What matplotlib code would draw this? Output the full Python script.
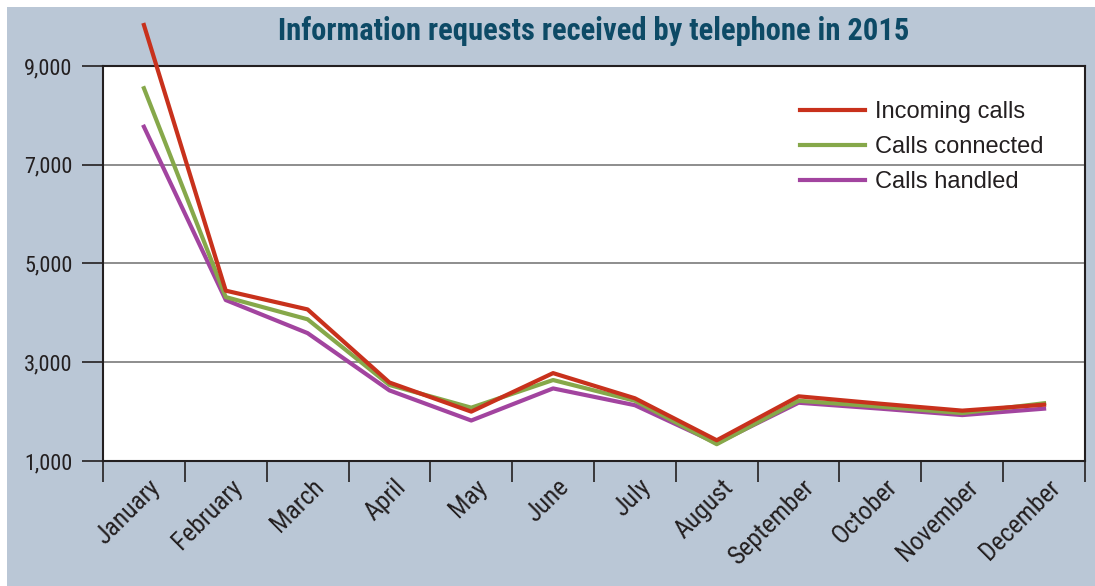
import matplotlib
matplotlib.use('Agg')
from matplotlib import pyplot as plt
from matplotlib.patches import Rectangle
import matplotlib.transforms as mtransforms

months = ['January', 'February', 'March', 'April', 'May', 'June', 'July',
          'August', 'September', 'October', 'November', 'December']
incoming = [9830, 4450, 4070, 2590, 2000, 2780, 2270, 1420, 2310, 2160, 2020, 2140]
connected = [8550, 4320, 3870, 2540, 2080, 2640, 2220, 1340, 2220, 2100, 1970, 2170]
handled = [7770, 4260, 3590, 2430, 1820, 2470, 2130, 1360, 2180, 2060, 1930, 2060]
yticks = [1000, 3000, 5000, 7000, 9000]

narrow = ['Liberation Sans Narrow', 'Roboto Condensed', 'DejaVu Sans']
bg = '#bac7d6'

W, H = 1095, 586
fig = plt.figure(figsize=(W / 100, H / 100), dpi=100, facecolor='white')
fig.patches.append(Rectangle((7 / W, 0), 1 - 7 / W, 1 - 7 / H, transform=fig.transFigure,
                             facecolor=bg, edgecolor='none', zorder=-5))

ax = fig.add_axes([103 / W, (H - 461) / H, (1085 - 103) / W, (461 - 66) / H])
ax.set_zorder(2)
ax.set_facecolor('white')

x = range(len(months))
ax.plot(x, handled, color='#a2449f', lw=3, label='Calls handled', clip_on=False, zorder=3)
ax.plot(x, connected, color='#86a84a', lw=3, label='Calls connected', clip_on=False, zorder=4)
ax.plot(x, incoming, color='#c8311c', lw=3, label='Incoming calls', clip_on=False, zorder=5)

ax.set_xlim(-0.5, 11.5)
ax.set_ylim(1000, 9000)
ax.set_yticks(yticks)
ax.set_yticklabels([f'{v:,}' for v in yticks], family=narrow, stretch='condensed',
                   fontsize=16, color='#231f20')
ax.tick_params(axis='y', length=15, width=1.2, color='#231f20', pad=7)
ax.grid(axis='y', color='#858585', lw=1.3)
ax.set_axisbelow(True)

ax.set_xticks(list(x))
ax.set_xticks([i - 0.5 for i in range(13)], minor=True)
ax.tick_params(axis='x', which='major', length=0, pad=10)
ax.tick_params(axis='x', which='minor', length=15, width=1.2, color='#231f20')
ax.set_xticklabels(months, family=narrow, stretch='condensed', fontsize=18.5, color='#231f20',
                   rotation=45, ha='right', va='top', rotation_mode='anchor')
offset = mtransforms.ScaledTranslation(4 / 100, 0, fig.dpi_scale_trans)
for lab in ax.get_xticklabels():
    lab.set_transform(lab.get_transform() + offset)

for s in ax.spines.values():
    s.set_color('#231f20')
    s.set_linewidth(1.5)

h, l = ax.get_legend_handles_labels()
ax.legend(h[::-1], l[::-1], loc='upper left', bbox_to_anchor=(0.688, 0.965), frameon=False,
          prop={'family': 'Liberation Sans', 'size': 17}, handlelength=2.75,
          handletextpad=0.45, labelspacing=0.55, labelcolor='#231f20')

fig.text(594 / W, 1 - 31 / H, 'Information requests received by telephone in 2015',
         ha='center', va='center', family=narrow, stretch='condensed', fontweight='bold',
         fontsize=22, color='#0d4a66')

fig.savefig('out.png', dpi=100, facecolor='white')
